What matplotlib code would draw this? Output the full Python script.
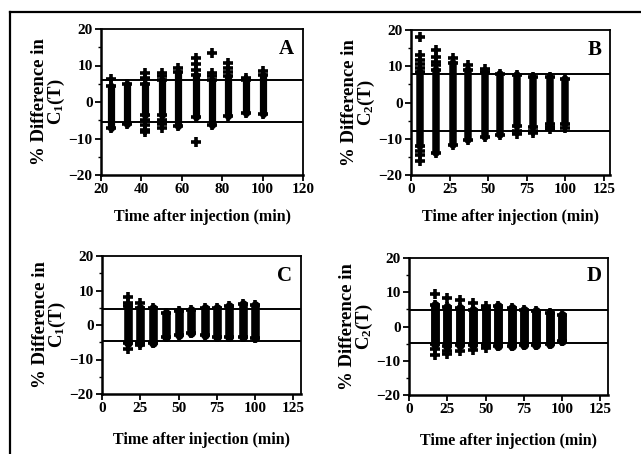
import matplotlib
matplotlib.use("Agg")
import matplotlib.pyplot as plt
from matplotlib.lines import Line2D
from matplotlib.ticker import MultipleLocator

plt.rcParams['font.family'] = ['Liberation Serif', 'DejaVu Serif']
plt.rcParams['font.weight'] = 'bold'
plt.rcParams['mathtext.default'] = 'regular'

# --------------------- Data --------------------------------------------
# each column: dense core from lo to hi plus single scattered points
times_A = [25, 33, 42, 50, 58, 67, 75, 83, 92, 100]
lo_A = [-7, -6, -3.5, -3.6, -6.5, -4, -6.3, -3.8, -3, -3.2]
hi_A = [4.5, 5, 5, 6, 8.3, 7.5, 6, 7, 6, 7.5]
extra_A = {25: [6.2], 42: [7.9, 6.5, -4.9, -6.3, -7.7, -8.3],
           50: [7.9, 7.0, -5, -6, -7.2], 58: [9.3],
           67: [12, 10.4, 8.9, -11], 75: [13.5, 7.9, 7.0],
           83: [10.7, 9.3, 8.3], 92: [6.7], 100: [8.6]}
band_A = (6.1, -5.6)

times_B = [6, 16, 27, 37, 48, 58, 69, 79, 90, 100]
lo_B = [-12, -13.8, -11.8, -10.3, -9.4, -9.0, -6.5, -6.7, -5.8, -5.8]
hi_B = [8.5, 9, 11, 9, 8.5, 8, 7.5, 7, 7, 6.5]
extra_B = {6: [18, 13.1, 11.7, 10.5, 9.6, -13.3, -14.6, -16.1],
           16: [14.5, 12.6, 11.2, 10.3], 27: [12.2], 37: [10.3],
           48: [9.3], 69: [-7.8, -8.8], 79: [-7.8, -8.4],
           90: [-6.7, -7.4], 100: [-6.9]}
band_B = (7.8, -7.8)

times_CD = [17, 25, 33, 42, 50, 58, 67, 75, 83, 92, 100]
lo_C = [-5.3, -5.3, -5.3, -3.4, -2.9, -2.4, -2.9, -3.4, -3.4, -3.4, -3.7]
hi_C = [5.5, 5.0, 5.0, 3.6, 4.1, 4.3, 5.0, 5.0, 5.5, 6.0, 5.7]
extra_C = {17: [8.0, 6.5, -6.9], 25: [6.5, -5.8]}
band_C = (4.6, -4.5)

lo_D = [-5.2, -5.7, -5.5, -5.5, -5.5, -5.7, -5.7, -5.5, -5.5, -5.2, -4.2]
hi_D = [6.3, 5.7, 5.4, 4.9, 5.1, 6.0, 5.4, 4.9, 4.4, 4.0, 3.3]
extra_D = {17: [9.4, -6.6, -8.4], 25: [8.3, -7.1, -8.0], 33: [7.8, -7.1],
           42: [6.8, -6.8], 50: [5.9, -6.2]}
band_D = (4.7, -4.9)

panels = [
    ("A", times_A, lo_A, hi_A, extra_A, band_A, (20, 120), [20, 40, 60, 80, 100, 120], "C$_1$(T)"),
    ("B", times_B, lo_B, hi_B, extra_B, band_B, (0, 129), [0, 25, 50, 75, 100, 125], "C$_2$(T)"),
    ("C", times_CD, lo_C, hi_C, extra_C, band_C, (0, 130), [0, 25, 50, 75, 100, 125], "C$_1$(T)"),
    ("D", times_CD, lo_D, hi_D, extra_D, band_D, (0, 130), [0, 25, 50, 75, 100, 125], "C$_2$(T)"),
]

# axes boxes in pixels: left, top, right, bottom
W, H = 641, 454
boxes = [(101, 29, 303, 175), (411, 30, 610, 175), (102, 256, 301, 394), (409, 258, 608, 395)]
core_w = [5.2, 5.4, 6.2, 6.4]
letter_pos = [(0.955, 0.93), (0.96, 0.93), (0.955, 0.93), (0.97, 0.945)]
xpad = [9, 9, 12, 12]

fig = plt.figure(figsize=(W / 100, H / 100), dpi=100)

for (letter, t, lo, hi, extra, band, xl, xt, cname), (l, tp, r, b), cw, lp, xp in zip(
        panels, boxes, core_w, letter_pos, xpad):
    ax = fig.add_axes([l / W, 1 - b / H, (r - l) / W, (b - tp) / H])
    ax.vlines(t, lo, hi, colors='black', lw=cw, capstyle='round')
    ax.plot(t, lo, '+', color='black', ms=7.5, mew=2.6)
    ax.plot(t, hi, '+', color='black', ms=7.5, mew=2.6)
    for x, vals in extra.items():
        ax.plot([x] * len(vals), vals, '+', color='black', ms=7.5, mew=2.6)
    ax.axhline(band[0], color='black', lw=1.4)
    ax.axhline(band[1], color='black', lw=1.4)

    ax.set_xlim(*xl)
    ax.set_ylim(-20, 20)
    ax.set_xticks(xt)
    ax.set_yticks([-20, -10, 0, 10, 20])
    ax.yaxis.set_minor_locator(MultipleLocator(5))
    ax.tick_params(direction='out', width=1.3, length=4, labelsize=11, pad=2)
    ax.tick_params(which='minor', direction='out', width=1.0, length=2.5)
    for s in ax.spines.values():
        s.set_linewidth(1.3)
    ax.spines['left'].set_linewidth(1.8)
    ax.spines['bottom'].set_linewidth(1.8)
    for lab in ax.get_xticklabels() + ax.get_yticklabels():
        lab.set_fontweight('bold')

    ax.set_xlabel("Time after injection (min)", fontsize=11.5, fontweight='bold', labelpad=xp)
    ax.set_ylabel("% Difference in\n" + cname, fontsize=13.5, fontweight='bold',
                  labelpad=1, linespacing=0.9)
    ax.text(lp[0], lp[1], letter, transform=ax.transAxes, ha='right', va='top',
            fontsize=15, fontweight='bold')

# outer frame of the figure (top and left edges)
fig.add_artist(Line2D([10 / W, 10 / W], [0, 1 - 12 / H], color='black', lw=1.6))
fig.add_artist(Line2D([10 / W, 1], [1 - 12 / H, 1 - 12 / H], color='black', lw=1.6))

fig.savefig("out.png", dpi=100)
